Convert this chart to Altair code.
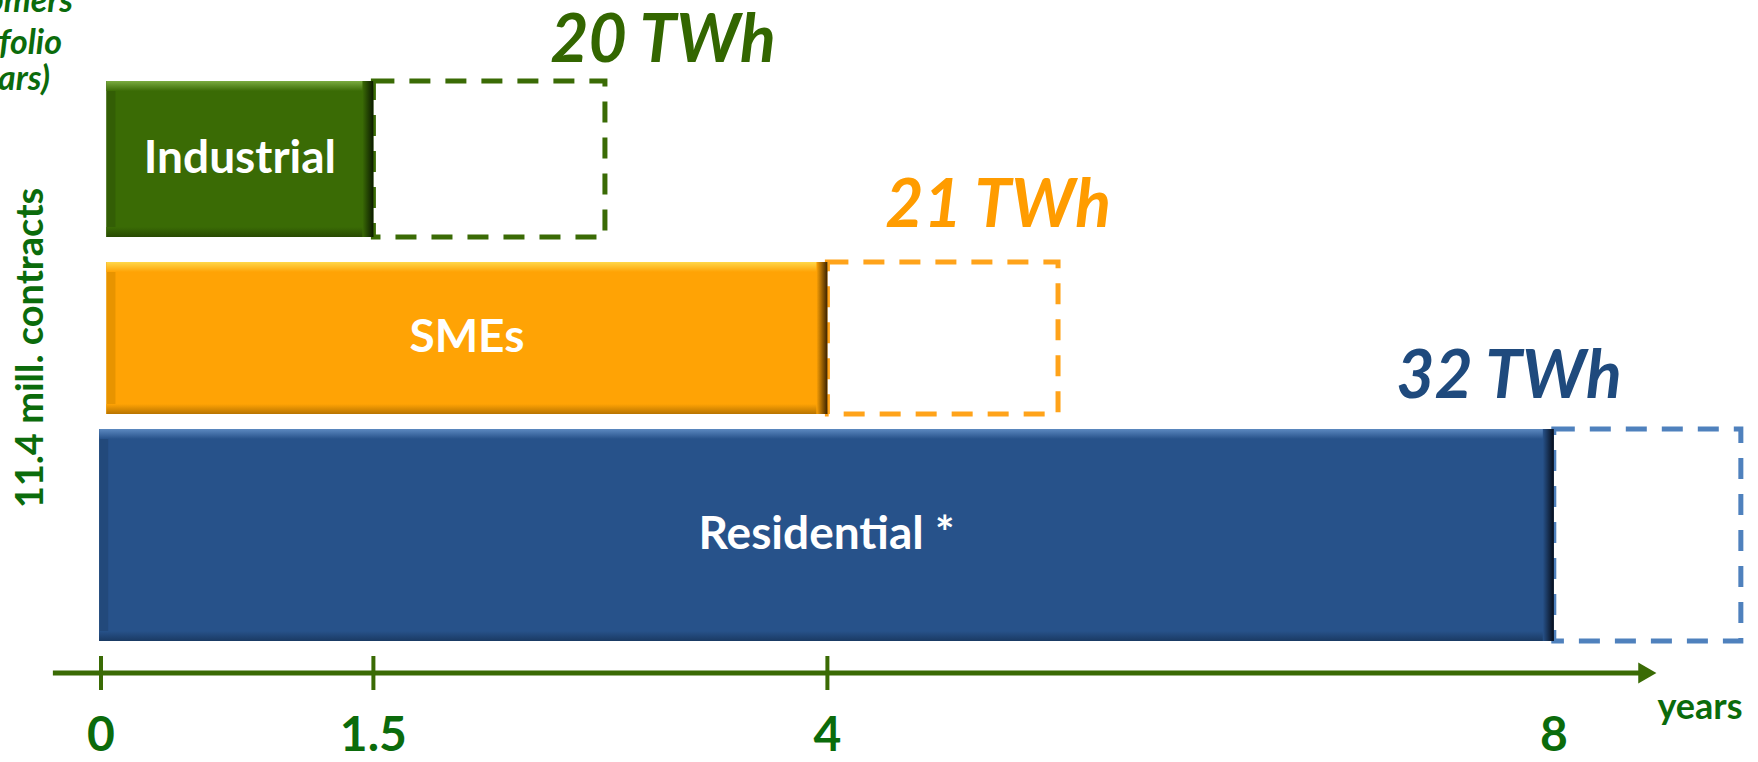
import altair as alt
import pandas as pd

# ---- data ----
segments = ["Industrial", "SMEs", "Residential *"]
bar_start = [0.03, 0.03, -0.01]       # years
tenure_years = [1.5, 4, 8]            # solid bar length (years)
potential_years = [2.775, 5.27, 9.03]  # end of dashed box (years)
volume_labels = ["20 TWh", "21 TWh", "32 TWh"]
lane_top = [81, 262, 429]             # vertical lane extents (lane units)
lane_bottom = [237, 414, 641]
tick_years = [0, 1.5, 4]
label_years = [0, 1.5, 4, 8]
label_text = ["0", "1.5", "4", "8"]
volume_label_x = [3.095, 4.94, 7.753]  # years
volume_label_y = [42, 207, 378]        # lane units

W, H = 1758, 762
PX_PER_YEAR = 181.6
ORIGIN = 101
xs = alt.Scale(domain=[-ORIGIN / PX_PER_YEAR, (W - ORIGIN) / PX_PER_YEAR], range=[0, W], nice=False, zero=False)
ys = alt.Scale(domain=[0, H], range=[0, H], nice=False, zero=False)

FONT = "Lato"
GREEN_TXT = "#0B6B0B"
OLIVE = "#3A6B05"

main_col = ["#3A6B05", "#FFA305", "#27528A"]
light_col = ["#7AAB40", "#FFD84A", "#5C89C0"]
left_col = ["#335E05", "#E89400", "#22497B"]
bottom_col = ["#284A03", "#B87400", "#1A3A63"]
right_dark = ["#0B1A00", "#3A2200", "#060D1A"]
dash_col = ["#3A6B05", "#FFA31A", "#4F81BD"]
volume_col = ["#336600", "#FF9C00", "#1F4A7D"]

df = pd.DataFrame({
    "segment": segments,
    "start": bar_start,
    "end": tenure_years,
    "pot": potential_years,
    "top": lane_top,
    "bottom": lane_bottom,
})

X = lambda f: alt.X(f"{f}:Q", scale=xs, axis=None)
Y = lambda f: alt.Y(f"{f}:Q", scale=ys, axis=None)

layers = []
for i, seg in enumerate(segments):
    base = alt.Chart(df).transform_filter(alt.datum.segment == seg)
    # dashed potential box
    layers.append(base.mark_rect(fillOpacity=0, stroke=dash_col[i], strokeWidth=5, strokeDash=[21, 15]).encode(
        x=X("end"), x2="pot:Q", y=Y("top"), y2="bottom:Q"))
    # body
    layers.append(base.mark_rect(color=main_col[i]).encode(x=X("start"), x2="end:Q", y=Y("top"), y2="bottom:Q"))
    # left bevel
    layers.append(base.mark_rect(color=left_col[i], x2Offset=9).encode(x=X("start"), x2="start:Q", y=Y("top"), y2="bottom:Q"))
    # bottom bevel
    layers.append(base.mark_rect(
        fill=alt.LinearGradient(gradient="linear", stops=[alt.GradientStop(color=main_col[i], offset=0), alt.GradientStop(color=bottom_col[i], offset=1)], x1=0, x2=0, y1=0, y2=1),
        yOffset=-10).encode(x=X("start"), x2="end:Q", y=Y("bottom"), y2="bottom:Q"))
    # top bevel
    layers.append(base.mark_rect(
        fill=alt.LinearGradient(gradient="linear", stops=[alt.GradientStop(color=light_col[i], offset=0), alt.GradientStop(color=main_col[i], offset=1)], x1=0, x2=0, y1=0, y2=1),
        y2Offset=10).encode(x=X("start"), x2="end:Q", y=Y("top"), y2="top:Q"))
    # right bevel
    layers.append(base.mark_rect(
        fill=alt.LinearGradient(gradient="linear", stops=[alt.GradientStop(color=main_col[i], offset=0), alt.GradientStop(color=right_dark[i], offset=1)], x1=0, x2=1, y1=0, y2=0),
        xOffset=-11).encode(x=X("end"), x2="end:Q", y=Y("top"), y2="bottom:Q"))

# bar labels
layers.append(alt.Chart(df).transform_calculate(cx="(datum.start + datum.end) / 2", cy="(datum.top + datum.bottom) / 2")
              .mark_text(color="white", font=FONT, fontWeight="bold", fontSize=46, baseline="middle", align="center")
              .encode(x=X("cx"), y=Y("cy"), text="segment:N"))

# volume labels
vol_df = pd.DataFrame({"segment": segments, "label": volume_labels, "x": volume_label_x, "y": volume_label_y})
layers.append(alt.Chart(vol_df).mark_text(font=FONT, fontWeight="bold", fontStyle="italic", fontSize=66, baseline="middle", align="center")
              .encode(x=X("x"), y=Y("y"), text="label:N",
                      color=alt.Color("segment:N", scale=alt.Scale(domain=segments, range=volume_col), legend=None)))

# time axis
axis_df = pd.DataFrame({"x0": [-0.265], "x1": [8.50], "y": [673]})
layers.append(alt.Chart(axis_df).mark_rule(color=OLIVE, strokeWidth=5).encode(x=X("x0"), x2="x1:Q", y=Y("y")))
arrow_df = pd.DataFrame({"x": [8.515], "y": [673]})
layers.append(alt.Chart(arrow_df).mark_point(shape="triangle-right", filled=True, opacity=1, color=OLIVE, size=440).encode(x=X("x"), y=Y("y")))
tick_df = pd.DataFrame({"x": tick_years, "y0": [656] * len(tick_years), "y1": [690] * len(tick_years)})
layers.append(alt.Chart(tick_df).mark_rule(color=OLIVE, strokeWidth=4).encode(x=X("x"), y=Y("y0"), y2="y1:Q"))
lab_df = pd.DataFrame({"x": label_years, "t": label_text, "y": [737] * len(label_years)})
layers.append(alt.Chart(lab_df).mark_text(color=GREEN_TXT, font=FONT, fontWeight="bold", fontSize=48, baseline="middle", align="center")
              .encode(x=X("x"), y=Y("y"), text="t:N"))

# annotations
one = pd.DataFrame({"a": [0]})
layers.append(alt.Chart(one).mark_text(text="years", color=GREEN_TXT, font=FONT, fontWeight="bold", fontSize=36, baseline="middle", align="center")
              .encode(x=alt.value(1700), y=alt.value(708)))
layers.append(alt.Chart(one).mark_text(text="11.4 mill. contracts", angle=270, color=GREEN_TXT, font=FONT, fontWeight="bold", fontSize=38, baseline="middle", align="center")
              .encode(x=alt.value(32), y=alt.value(348)))
corner_lines = ["Customers", "portfolio", "(years)"]
corner_right = [73, 62, 50]
corner_base = [12, 54, 90]
for t, xr, yb in zip(corner_lines, corner_right, corner_base):
    layers.append(alt.Chart(one).mark_text(text=t, color=GREEN_TXT, font=FONT, fontWeight="bold", fontStyle="italic", fontSize=34, baseline="alphabetic", align="right")
                  .encode(x=alt.value(xr), y=alt.value(yb)))

chart = alt.layer(*layers).properties(
    width=W, height=H, autosize=alt.AutoSizeParams(type="none"), padding=0, background="white"
).configure_view(stroke=None)

chart.save("out.html", embed_options={"renderer": "svg", "actions": False})
